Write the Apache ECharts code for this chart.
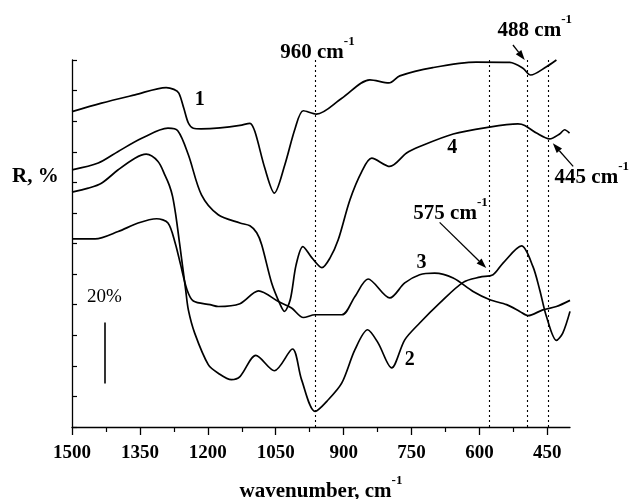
<!DOCTYPE html>
<html>
<head>
<meta charset="utf-8">
<script src="https://cdn.jsdelivr.net/npm/echarts@6/dist/echarts.min.js"></script>
<style>
  html, body { margin: 0; padding: 0; background: #fff; }
  #main { width: 630px; height: 499px; }
</style>
</head>
<body>
<div id="main"></div>
<script>
// spectra, [wavenumber, R in units of 10%]
var curve1 = [[1500,10.31],[1435,10.59],[1361,10.86],[1292,11.10],[1275,11.04],[1264,10.92],[1253,10.42],[1243,9.94],[1232,9.77],[1215,9.75],
  [1173,9.78],[1129,9.86],[1107,9.93],[1096,9.66],[1074,8.46],[1053,7.65],[1030,8.57],[1007,9.77],[989,10.34],[960,10.23],
  [904,10.75],[842,11.35],[800,11.25],[776,11.48],[703,11.75],[607,11.93],[533,11.92],[504,11.73],[487,11.51],[452,11.78],[430,12.0]];
var curve2 = [[1500,7.68],[1464,7.81],[1435,7.97],[1398,8.41],[1361,8.79],[1336,8.92],[1310,8.68],[1294,8.21],[1285,7.9],[1278,7.55],
  [1271,6.95],[1262,5.96],[1249,4.49],[1243,3.83],[1229,3.07],[1199,2.04],[1177,1.76],[1148,1.55],[1129,1.65],[1094,2.34],
  [1053,1.84],[1013,2.55],[993,1.55],[963,0.51],[934,0.89],[904,1.44],[875,2.53],[847,3.18],[824,2.75],[794,1.93],[765,2.85],
  [732,3.40],[688,4.05],[636,4.73],[599,4.90],[570,4.98],[548,5.36],[507,5.92],[482,5.25],[467,4.49],[452,3.61],[430,2.83],
  [416,3.07],[400,3.78]];
var curve3 = [[1500,6.15],[1449,6.15],[1398,6.39],[1354,6.67],[1313,6.81],[1288,6.67],[1272,6.01],[1260,5.30],[1246,4.49],[1232,4.12],
  [1195,4.0],[1177,3.94],[1129,4.03],[1088,4.45],[1044,4.10],[1015,3.89],[989,3.58],[963,3.67],[904,3.67],[875,4.27],[846,4.84],
  [798,4.22],[765,4.71],[732,4.98],[699,5.03],[658,4.87],[614,4.43],[577,4.16],[540,4.0],[511,3.78],[493,3.64],[460,3.83],
  [430,3.94],[400,4.14]];
var curve4 = [[1500,8.41],[1442,8.63],[1398,9.01],[1346,9.44],[1288,9.77],[1266,9.68],[1243,8.90],[1214,7.59],[1177,6.94],[1129,6.67],
  [1107,6.58],[1092,6.35],[1081,5.96],[1059,4.71],[1040,4.0],[1031,3.78],[1018,4.16],[1005,5.30],[990,5.90],[970,5.53],[948,5.21],
  [930,5.53],[912,6.12],[886,7.43],[860,8.35],[838,8.79],[798,8.52],[761,8.96],[732,9.17],[658,9.58],[585,9.79],[515,9.91],
  [500,9.86],[474,9.61],[445,9.42],[423,9.58],[412,9.72],[401,9.61]];

var xLabels = [1500, 1350, 1200, 1050, 900, 750, 600, 450];
var xMinor = [1425, 1275, 1125, 975, 825, 675, 525];
// dotted marker lines (wavenumber)
var bands = [962, 579, 494, 448];
// numbers next to curves [text, x, y]
var curveNames = [['1', 1218, 10.69], ['2', 754, 2.20], ['3', 728, 5.36], ['4', 660, 9.12]];
// band labels, left anchored [text, x, y]
var bandNames = [['960', 1040, 12.36], ['488', 560, 13.08], ['445', 434, 8.28], ['575', 746, 7.1]];
// arrows [x1, y1, x2, y2]
var arrows = [[688, 6.69, 585, 5.20], [526, 12.49, 500, 12.0], [393, 8.52, 438, 9.28]];
var scaleBar = [1427, 1.42, 3.42];

var FONT = 'Liberation Serif';
var chart = echarts.init(document.getElementById('main'));

var marks = bands.map(function (b) {
  return [{ coord: [b, 0], lineStyle: { type: [2, 3], width: 1.1, color: '#000' } }, { coord: [b, 12] }];
});
marks.push([{ coord: [scaleBar[0], scaleBar[1]], lineStyle: { type: 'solid', width: 1.6, color: '#000' } },
  { coord: [scaleBar[0], scaleBar[2]] }]);

function lineSeries(d, extra) {
  var s = {
    type: 'line', data: d, symbol: 'none', smooth: 0.3, clip: false,
    lineStyle: { color: '#000', width: 1.7 }, silent: true, animation: false
  };
  if (extra) s.markLine = extra;
  return s;
}

var option = {
  animation: false,
  grid: { left: 72, right: 60, top: 60, bottom: 72, outerBoundsMode: 'none', containLabel: false },
  xAxis: [{
    type: 'value', min: 400, max: 1500, inverse: true,
    name: '{t|wavenumber, cm}{s|-1}', nameLocation: 'middle', nameGap: 47,
    nameTextStyle: { rich: {
      t: { fontFamily: FONT, fontWeight: 'bold', fontSize: 21, color: '#000', lineHeight: 28, verticalAlign: 'bottom' },
      s: { fontFamily: FONT, fontWeight: 'bold', fontSize: 13, color: '#000', lineHeight: 13, verticalAlign: 'top' } } },
    axisLine: { lineStyle: { color: '#000', width: 1.3 } },
    axisTick: { customValues: xLabels, length: 8, lineStyle: { color: '#000', width: 1.3 } },
    axisLabel: { customValues: xLabels, margin: 17, fontFamily: FONT, fontWeight: 'bold', fontSize: 19, color: '#000',
      formatter: function (v) { return String(v); } },
    splitLine: { show: false }
  }, {
    type: 'value', min: 400, max: 1500, inverse: true, position: 'bottom',
    axisLine: { show: false },
    axisTick: { customValues: xMinor, length: 5, lineStyle: { color: '#000', width: 1.2 } },
    axisLabel: { show: false }, splitLine: { show: false }
  }],
  yAxis: {
    type: 'value', min: 0, max: 12, interval: 1,
    axisLine: { show: true, lineStyle: { color: '#000', width: 1.3 } },
    axisTick: { show: true, inside: true, length: 5, lineStyle: { color: '#000', width: 1.2 } },
    axisLabel: { show: false }, splitLine: { show: false }
  },
  series: [
    lineSeries(curve1, { symbol: 'none', silent: true, label: { show: false }, animation: false, data: marks }),
    lineSeries(curve2), lineSeries(curve3), lineSeries(curve4)
  ]
};
chart.setOption(option);

function toPx(x, y) { return chart.convertToPixel({ xAxisIndex: 0, yAxisIndex: 0 }, [x, y]); }

var supRich = {
  t: { fontFamily: FONT, fontWeight: 'bold', fontSize: 21, fill: '#000', lineHeight: 28, verticalAlign: 'bottom' },
  s: { fontFamily: FONT, fontWeight: 'bold', fontSize: 13, fill: '#000', lineHeight: 13, verticalAlign: 'top' }
};
var g = [];
curveNames.forEach(function (c) {
  var p = toPx(c[1], c[2]);
  g.push({ type: 'text', x: p[0], y: p[1], silent: true,
    style: { text: c[0], font: 'bold 20px ' + FONT, fill: '#000', align: 'center', verticalAlign: 'middle' } });
});
bandNames.forEach(function (c) {
  var p = toPx(c[1], c[2]);
  g.push({ type: 'text', x: p[0], y: p[1], silent: true,
    style: { text: '{t|' + c[0] + ' cm}{s|-1}', rich: supRich, align: 'left', verticalAlign: 'middle' } });
});
arrows.forEach(function (a) {
  var p1 = toPx(a[0], a[1]), p2 = toPx(a[2], a[3]);
  var dx = p2[0] - p1[0], dy = p2[1] - p1[1], L = Math.sqrt(dx * dx + dy * dy);
  var ux = dx / L, uy = dy / L, hl = 10, hw = 3.5;
  var bx = p2[0] - ux * hl, by = p2[1] - uy * hl;
  g.push({ type: 'line', silent: true, shape: { x1: p1[0], y1: p1[1], x2: bx, y2: by },
    style: { stroke: '#000', lineWidth: 1.3 } });
  g.push({ type: 'polygon', silent: true,
    shape: { points: [[p2[0], p2[1]], [bx - uy * hw, by + ux * hw], [bx + uy * hw, by - ux * hw]] },
    style: { fill: '#000' } });
});
var pb = toPx(scaleBar[0], scaleBar[2]);
g.push({ type: 'text', x: pb[0] - 18, y: pb[1] - 25, silent: true,
  style: { text: '20%', font: '19px ' + FONT, fill: '#000', align: 'left', verticalAlign: 'middle' } });
g.push({ type: 'text', left: 12, top: 166, silent: true,
  style: { text: 'R, %', font: 'bold 21px ' + FONT, fill: '#000' } });
chart.setOption({ graphic: g });
</script>
</body>
</html>
